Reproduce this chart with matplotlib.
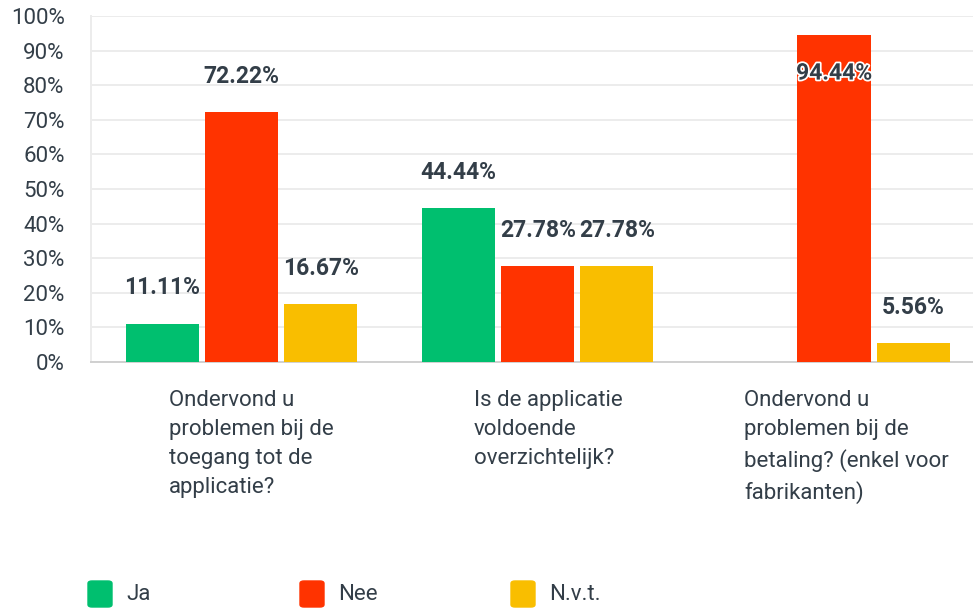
import numpy as np
import matplotlib
matplotlib.use('Agg')
from matplotlib import pyplot as plt
import matplotlib.patheffects as pe
from matplotlib.patches import FancyBboxPatch

plt.rcParams['font.family'] = ['Roboto', 'DejaVu Sans']

# data
categories = ['Ondervond u\nproblemen bij de\ntoegang tot de\napplicatie?',
              'Is de applicatie\nvoldoende\noverzichtelijk?',
              'Ondervond u\nproblemen bij de\nbetaling? (enkel voor\nfabrikanten)']
series_names = ['Ja', 'Nee', 'N.v.t.']
ja = [11.11, 44.44, 0.0]
nee = [72.22, 27.78, 94.44]
nvt = [16.67, 27.78, 5.56]
yticks = [0, 10, 20, 30, 40, 50, 60, 70, 80, 90, 100]

colors = ['#00bf6f', '#ff3300', '#f9be00']
text_color = '#333e48'


def main():
    fig = plt.figure(figsize=(9.73, 6.10), dpi=100)
    ax = fig.add_axes([91 / 973, 1 - 362 / 610, 882 / 973, 346 / 610])

    x = np.arange(len(categories))
    width = 0.247
    step = 0.267
    values = [ja, nee, nvt]
    for k, vals in enumerate(values):
        pos = x + (k - 1) * step
        ax.bar(pos, vals, width=width, color=colors[k], zorder=3)
        for p, v in zip(pos, vals):
            if v == 0:
                continue
            ly = min(v + 10.3, 83.5)
            t = ax.text(p, ly, '%.2f%%' % v, ha='center', va='center',
                        fontsize=16.5, fontweight='bold', color=text_color, zorder=5)
            if ly < v:
                t.set_path_effects([pe.withStroke(linewidth=2.5, foreground='white')])

    ax.set_xlim(-0.508, 2.469)
    ax.set_ylim(0, 100)
    ax.set_yticks(yticks)
    ax.set_yticklabels(['%d%%' % t for t in yticks])
    ax.tick_params(axis='y', length=0, pad=19, labelsize=16, labelcolor=text_color)
    ax.set_xticks([])
    ax.grid(axis='y', color='#ececec', linewidth=1.4, zorder=0)
    for s in ['top', 'right']:
        ax.spines[s].set_visible(False)
    ax.spines['left'].set_color('#ececec')
    ax.spines['left'].set_linewidth(1.4)
    ax.spines['bottom'].set_color('#d0d0d0')
    ax.spines['bottom'].set_linewidth(1.4)

    # category labels, left aligned under each group
    label_x = [169, 474, 744]
    for lx, cat in zip(label_x, categories):
        fig.text(lx / 973, 1 - 390 / 610, cat, ha='left', va='top',
                 fontsize=16, color=text_color, linespacing=1.5)

    # legend
    leg_x = [88, 300, 511]
    for lx, name, c in zip(leg_x, series_names, colors):
        box = FancyBboxPatch((lx / 973, 1 - 607 / 610), 24 / 973, 26 / 610,
                             boxstyle='round,pad=0,rounding_size=0.004',
                             transform=fig.transFigure, color=c)
        fig.patches.append(box)
        fig.text((lx + 38) / 973, 1 - 594 / 610, name, ha='left', va='center',
                 fontsize=16, color=text_color)

    fig.savefig('out.png', dpi=100)


if __name__ == '__main__':
    main()
